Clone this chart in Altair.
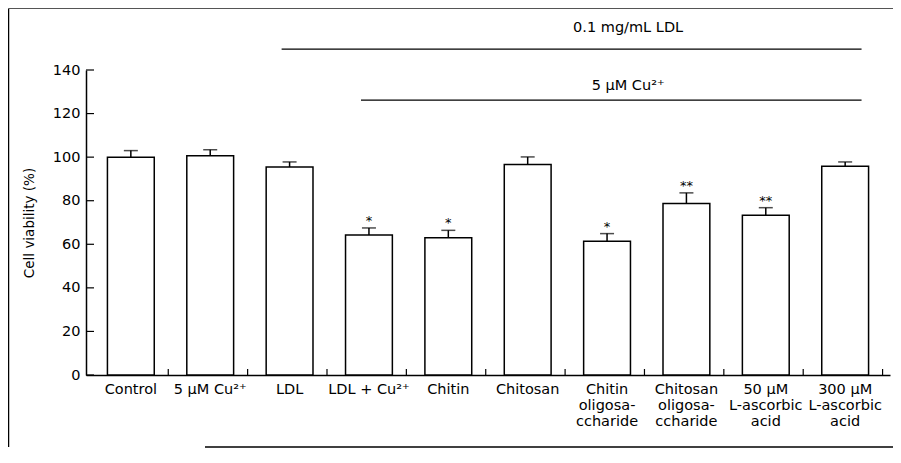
import altair as alt
import pandas as pd

# ---- data ----
categories = [
    "Control",
    "5 μM Cu²⁺",
    "LDL",
    "LDL + Cu²⁺",
    "Chitin",
    "Chitosan",
    "Chitin|oligosa-|ccharide",
    "Chitosan|oligosa-|ccharide",
    "50  μM|L-ascorbic|acid",
    "300  μM|L-ascorbic|acid",
]
viability = [100, 100.6, 95.5, 64.3, 63, 96.6, 61.4, 78.7, 73.3, 95.8]
sem = [3.0, 2.8, 2.3, 3.2, 3.4, 3.5, 3.5, 4.9, 3.5, 2.0]
stars = ["", "", "", "*", "*", "", "*", "**", "**", ""]

y_ticks = [0, 20, 40, 60, 80, 100, 120, 140]

# treatment brackets above the bars
bracket_labels = ["0.1 mg/mL LDL", "5  μM Cu²⁺"]
bracket_start = ["LDL", "LDL + Cu²⁺"]
bracket_end = ["300  μM|L-ascorbic|acid", "300  μM|L-ascorbic|acid"]
bracket_line_y = [149.6, 126.2]
bracket_text_y = [159.3, 132.6]
bracket_text_at = ["Chitin|oligosa-|ccharide", "Chitin|oligosa-|ccharide"]

FONT = "DejaVu Sans"
W, H = 804, 305

df = pd.DataFrame({"cat": categories, "v": viability, "e": sem, "star": stars})
df["top"] = df["v"] + df["e"]
ticks_df = pd.DataFrame({"t": y_ticks})
br = pd.DataFrame({
    "label": bracket_labels, "start": bracket_start, "end": bracket_end,
    "ly": bracket_line_y, "ty": bracket_text_y, "at": bracket_text_at,
})
one = pd.DataFrame({"k": [0]})

xs = alt.Scale(domain=categories, paddingInner=0.41, paddingOuter=0.27)
ys = alt.Scale(domain=[0, 140], nice=False, zero=True)

x_axis = alt.Axis(labelExpr="split(datum.label, '|')", labelAngle=0,
                  labelAlign="center", labelBaseline="top",
                  labelFontSize=14.5, labelLineHeight=16, title=None,
                  labelPadding=7, ticks=False, domainColor="black",
                  domainWidth=1.5, labelColor="black", labelFont=FONT, grid=False)
y_axis = alt.Axis(values=y_ticks, title="Cell viability (%)", ticks=False,
                  labelPadding=6, labelFontSize=14.5, labelFont=FONT,
                  labelColor="black", domainColor="black", domainWidth=1.5,
                  grid=False, titleFont=FONT, titleFontSize=13.5,
                  titleFontWeight="normal", titleColor="black",
                  titlePadding=16)


def X(field, **kw):
    return alt.X(field, scale=xs, sort=None, axis=x_axis, title=None, **kw)


def Y(field):
    return alt.Y(field, scale=ys, axis=y_axis, title="Cell viability (%)")


base = alt.Chart(df)

bars = base.mark_bar(fill="white", stroke="black", strokeWidth=1.5).encode(
    x=X("cat:N"), y=Y("v:Q"),
)
err = base.mark_rule(color="black", strokeWidth=1.5).encode(
    x=X("cat:N"), y=Y("v:Q"), y2="top:Q",
)
caps = base.mark_tick(color="black", thickness=1.5, size=14, orient="horizontal").encode(
    x=X("cat:N"), y=Y("top:Q"),
)
star_txt = base.mark_text(font=FONT, fontSize=13, color="black", baseline="alphabetic", dy=-3).encode(
    x=X("cat:N"), y=Y("top:Q"), text="star:N",
)

# inward x ticks between the bars
xticks = base.mark_rule(color="black", strokeWidth=1.2, xOffset=14).encode(
    x=X("cat:N", bandPosition=1),
    y=alt.value(H),
    y2=alt.value(H - 6),
)
# inward y ticks
yticks = alt.Chart(ticks_df).mark_rule(color="black", strokeWidth=1.2).encode(
    x=alt.value(0), x2=alt.value(8),
    y=Y("t:Q"),
)

br_lines = alt.Chart(br).mark_rule(color="black", strokeWidth=1.2).encode(
    x=X("start:N", bandPosition=0.33),
    x2=alt.X2("end:N", bandPosition=0.85),
    y=Y("ly:Q"),
)
br_text = alt.Chart(br).mark_text(font=FONT, fontSize=14.5, color="black", baseline="middle").encode(
    x=X("at:N", bandPosition=0.95),
    y=Y("ty:Q"),
    text="label:N",
)

# figure frame (scanned border)
fr = alt.Chart(one)
frame_left = fr.mark_rule(color="black", strokeWidth=1.5).encode(
    x=alt.value(-77.5), y=alt.value(-61.5), y2=alt.value(377))
frame_top = fr.mark_rule(color="#555555", strokeWidth=1.2).encode(
    x=alt.value(-77.5), x2=alt.value(807), y=alt.value(-61.5))
frame_bottom = fr.mark_rule(color="black", strokeWidth=1.5).encode(
    x=alt.value(119), x2=alt.value(807), y=alt.value(377))

chart = alt.layer(
    bars, err, caps, star_txt, xticks, yticks, br_lines, br_text,
    frame_left, frame_top, frame_bottom,
).properties(
    width=W, height=H,
    autosize=alt.AutoSizeParams(type="none"),
    padding={"left": 78, "top": 62, "right": 3, "bottom": 73},
).configure(background="white").configure_view(stroke=None)

chart.save("out.html", embed_options={"renderer": "svg", "actions": False})
